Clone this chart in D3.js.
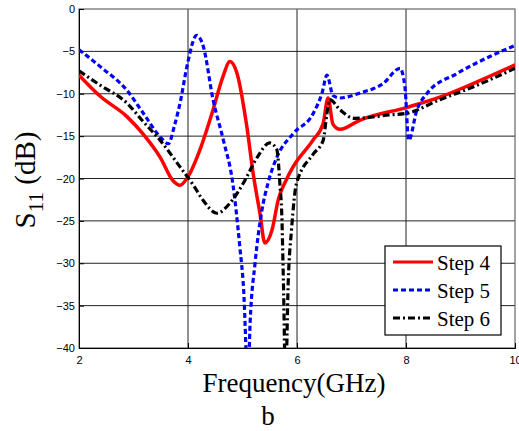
<!DOCTYPE html>
<html>
<head>
<meta charset="utf-8">
<script src="https://cdn.jsdelivr.net/npm/d3@7"></script>
<style>
  body { margin: 0; background: #fff; }
  svg { display: block; }
  .serif { font-family: "Liberation Serif", "Times New Roman", serif; }
  .sans { font-family: "Liberation Sans", Arial, sans-serif; }
</style>
</head>
<body>
<svg id="chart" width="519" height="431"></svg>
<script>
// values (GHz, dB)
const step4 = [[2,-7.8],[2.39,-10.3],[2.88,-12.7],[3.17,-14.7],[3.49,-17.5],[3.73,-20.3],[3.85,-20.8],[4.0,-19.8],[4.22,-16.6],[4.46,-11.9],[4.64,-8.0],[4.77,-6.2],[4.9,-7.6],[5.08,-13.9],[5.2,-19.6],[5.32,-24.1],[5.41,-27.6],[5.54,-26.1],[5.66,-22.4],[5.8,-20.2],[5.93,-18.6],[6.29,-15.5],[6.48,-13.5],[6.57,-10.5],[6.66,-13.6],[6.79,-14.2],[7.16,-13.1],[8.02,-11.6],[8.62,-10.4],[9.23,-8.8],[10,-6.6]];
const step5 = [[2,-4.8],[2.39,-6.8],[2.88,-9.6],[3.18,-12.3],[3.49,-15.1],[3.64,-15.9],[3.75,-13.8],[3.87,-10.6],[3.98,-6.8],[4.16,-3.1],[4.28,-4.4],[4.46,-10.7],[4.65,-15.5],[4.82,-20.5],[4.95,-28],[5.02,-33],[5.1,-44],[5.14,-37],[5.23,-30],[5.35,-24],[5.47,-20.5],[5.63,-17.5],[5.93,-14.7],[6.3,-12.3],[6.46,-9.9],[6.55,-7.8],[6.66,-10.2],[6.79,-10.5],[7.16,-9.9],[7.58,-8.8],[7.89,-7.0],[7.98,-9.2],[8.05,-15.5],[8.2,-11.9],[8.38,-10.0],[8.94,-7.6],[9.54,-5.6],[10,-4.3]];
const step6 = [[2,-7.3],[2.39,-9.0],[2.88,-11.1],[3.18,-13.3],[3.49,-15.5],[3.85,-18.6],[4.1,-20.8],[4.28,-22.6],[4.53,-24.1],[4.77,-22.9],[5.02,-20.5],[5.27,-17.5],[5.5,-15.8],[5.63,-16.6],[5.69,-21],[5.72,-24.1],[5.75,-32],[5.79,-44],[5.84,-32],[5.9,-26],[5.99,-20.6],[6.3,-17.1],[6.48,-15.5],[6.55,-12.3],[6.6,-10.7],[6.79,-11.9],[7.05,-12.9],[7.7,-12.5],[8.02,-12.3],[8.62,-10.7],[9.23,-9.2],[10,-7.0]];
const seriesNames = ["Step 4", "Step 5", "Step 6"];
const xTicks = [2, 4, 6, 8, 10];
const yTicks = [0, -5, -10, -15, -20, -25, -30, -35, -40];

const pL = 79, pT = 9, pR = 515, pB = 348;
const svg = d3.select("#chart");

const x = d3.scaleLinear().domain([2, 10]).range([pL, pR]);
const y = d3.scaleLinear().domain([-40, 0]).range([pB, pT]);

// grid
svg.append("g").selectAll("line").data(xTicks.slice(1, -1)).enter().append("line")
  .attr("x1", d => x(d)).attr("x2", d => x(d)).attr("y1", pT).attr("y2", pB)
  .attr("stroke", "#222").attr("stroke-width", 1);
svg.append("g").selectAll("line").data(yTicks.slice(1, -1)).enter().append("line")
  .attr("x1", pL).attr("x2", pR).attr("y1", d => y(d)).attr("y2", d => y(d))
  .attr("stroke", "#222").attr("stroke-width", 1);

svg.append("rect").attr("x", pL).attr("y", pT).attr("width", pR - pL).attr("height", pB - pT)
  .attr("fill", "none").attr("stroke", "#666").attr("stroke-width", 1.2);

// axes
const xAxis = svg.append("g").attr("transform", `translate(0,${pB})`)
  .call(d3.axisBottom(x).tickValues(xTicks).tickSize(-5).tickPadding(8).tickFormat(d3.format("d")));
const yAxis = svg.append("g").attr("transform", `translate(${pL},0)`)
  .call(d3.axisLeft(y).tickValues(yTicks).tickSize(-5).tickPadding(4).tickFormat(d3.format("d")));
[xAxis, yAxis].forEach(a => {
  a.attr("font-family", null).attr("font-size", null);
  a.selectAll("text").attr("class", "sans").style("font-size", "11px").attr("fill", "#000");
  a.selectAll("line,path").attr("stroke", "#000");
});

// curves
svg.append("clipPath").attr("id", "clip").append("rect")
  .attr("x", pL).attr("y", pT).attr("width", pR - pL).attr("height", pB - pT);

const line = d3.line().x(d => x(d[0])).y(d => y(d[1])).curve(d3.curveMonotoneX);
const styles = [
  { data: step4, color: "#ff0000", dash: null, width: 3.5 },
  { data: step5, color: "#0000ff", dash: "5,3", width: 3.2 },
  { data: step6, color: "#000000", dash: "7,3,2,3", width: 3.2 }
];
const plot = svg.append("g").attr("clip-path", "url(#clip)");
styles.forEach(s => {
  plot.append("path").datum(s.data).attr("d", line)
    .attr("fill", "none").attr("stroke", s.color).attr("stroke-width", s.width)
    .attr("stroke-dasharray", s.dash).attr("stroke-linejoin", "round");
});

// legend
const lg = svg.append("g").attr("transform", "translate(385,246)");
lg.append("rect").attr("width", 116).attr("height", 89).attr("fill", "#fff").attr("stroke", "#000").attr("stroke-width", 1.2);
seriesNames.forEach((n, i) => {
  const ly = 16 + i * 28;
  lg.append("line").attr("x1", 8).attr("x2", 48).attr("y1", ly).attr("y2", ly)
    .attr("stroke", styles[i].color).attr("stroke-width", 3.2).attr("stroke-dasharray", styles[i].dash);
  lg.append("text").attr("class", "serif").attr("x", 52).attr("y", ly + 8).text(n)
    .style("font-size", "21px");
});

// labels
svg.append("text").attr("class", "serif").attr("x", 294).attr("y", 392).attr("text-anchor", "middle")
  .style("font-size", "27px").text("Frequency(GHz)");
svg.append("text").attr("class", "serif").attr("x", 268).attr("y", 425).attr("text-anchor", "middle")
  .style("font-size", "27px").text("b");

const yl = svg.append("text").attr("class", "serif").attr("transform", "translate(35,180) rotate(-90)")
  .attr("text-anchor", "middle").style("font-size", "29px");
yl.append("tspan").text("S");
yl.append("tspan").style("font-size", "21px").attr("dy", 8).text("11");
yl.append("tspan").attr("dy", -8).text(" (dB)");
</script>
</body>
</html>
